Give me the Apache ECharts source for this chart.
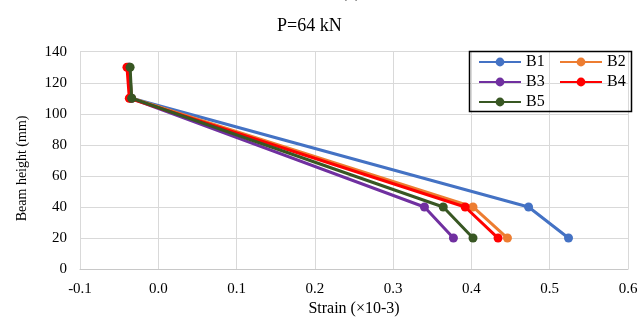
<!DOCTYPE html>
<html>
<head>
<meta charset="utf-8">
<script src="https://cdn.jsdelivr.net/npm/echarts@6/dist/echarts.min.js"></script>
<style>
  html, body { margin: 0; padding: 0; background: #fff; }
  #chart { width: 641px; height: 322px; }
</style>
</head>
<body>
<div id="chart"></div>
<script>
// Strain profile across beam height, P = 64 kN
const beamHeights = [130, 110, 40, 20];          // mm
const strainB1 = [-0.037, -0.034, 0.473, 0.524];  // ×10-3
const strainB2 = [-0.037, -0.034, 0.402, 0.446];
const strainB3 = [-0.038, -0.035, 0.340, 0.377];
const strainB4 = [-0.040, -0.037, 0.392, 0.434];
const strainB5 = [-0.036, -0.034, 0.364, 0.402];

const seriesNames = ['B1', 'B2', 'B3', 'B4', 'B5'];
const seriesColors = ['#4472C4', '#ED7D31', '#7030A0', '#FF0000', '#385723'];
const seriesStrains = [strainB1, strainB2, strainB3, strainB4, strainB5];

const xTicks = { min: -0.1, max: 0.6, interval: 0.1 };
const yTicks = { min: 0, max: 140, interval: 20 };

const serif = '"Liberation Serif", "Times New Roman", serif';

const chart = echarts.init(document.getElementById('chart'), null, { renderer: 'canvas' });

const legendCommon = {
  orient: 'vertical',
  top: 52,
  padding: 0,
  itemGap: 0,
  itemWidth: 42,
  itemHeight: 11,
  textStyle: { fontFamily: serif, fontSize: 16, color: '#000', lineHeight: 20 }
};

chart.setOption({
  animation: false,
  backgroundColor: '#fff',
  title: [{
    text: 'P=64 kN',
    left: 277,
    top: 17,
    padding: 0,
    textStyle: { fontFamily: serif, fontSize: 18, fontWeight: 'normal', color: '#000' }
  }, {
    text: '(c)',
    left: 341,
    top: -17,
    padding: 0,
    textStyle: { fontFamily: serif, fontSize: 18, fontWeight: 'normal', color: '#000' }
  }],
  grid: { left: 80, right: 13, top: 51.7, bottom: 51 },
  legend: [
    Object.assign({ left: 478, data: ['B1', 'B3', 'B5'] }, legendCommon),
    Object.assign({ left: 559, data: ['B2', 'B4'] }, legendCommon)
  ],
  graphic: [{
    type: 'rect',
    shape: { x: 469.5, y: 51.5, width: 162, height: 60 },
    style: { fill: 'rgba(0,0,0,0)', stroke: '#000', lineWidth: 1.5 },
    z: 100
  }],
  xAxis: {
    type: 'value',
    min: xTicks.min,
    max: xTicks.max,
    interval: xTicks.interval,
    name: 'Strain (×10-3)',
    nameLocation: 'middle',
    nameGap: 31,
    nameTextStyle: { fontFamily: serif, fontSize: 16, color: '#000' },
    axisLine: { show: true, onZero: false, lineStyle: { color: '#c8c8c8', width: 1 } },
    axisTick: { show: false },
    axisLabel: {
      fontFamily: serif, fontSize: 15, color: '#000', margin: 12,
      formatter: v => v.toFixed(1)
    },
    splitLine: { show: true, lineStyle: { color: '#d9d9d9', width: 1 } }
  },
  yAxis: {
    type: 'value',
    min: yTicks.min,
    max: yTicks.max,
    interval: yTicks.interval,
    name: 'Beam height (mm)',
    nameLocation: 'middle',
    nameGap: 51,
    nameTextStyle: { fontFamily: serif, fontSize: 14, color: '#000', padding: [0, 16, 0, 0] },
    axisLine: { show: true, lineStyle: { color: '#d9d9d9', width: 1 } },
    axisTick: { show: false },
    axisLabel: { fontFamily: serif, fontSize: 15, color: '#000', margin: 13 },
    splitLine: { show: true, lineStyle: { color: '#d9d9d9', width: 1 } }
  },
  series: seriesNames.map((name, i) => ({
    name: name,
    type: 'line',
    data: beamHeights.map((h, k) => [seriesStrains[i][k], h]),
    symbol: 'circle',
    symbolSize: 9,
    showSymbol: true,
    color: seriesColors[i],
    lineStyle: { width: 3, color: seriesColors[i] },
    itemStyle: { color: seriesColors[i] },
    z: 2 + i
  }))
});
</script>
</body>
</html>
